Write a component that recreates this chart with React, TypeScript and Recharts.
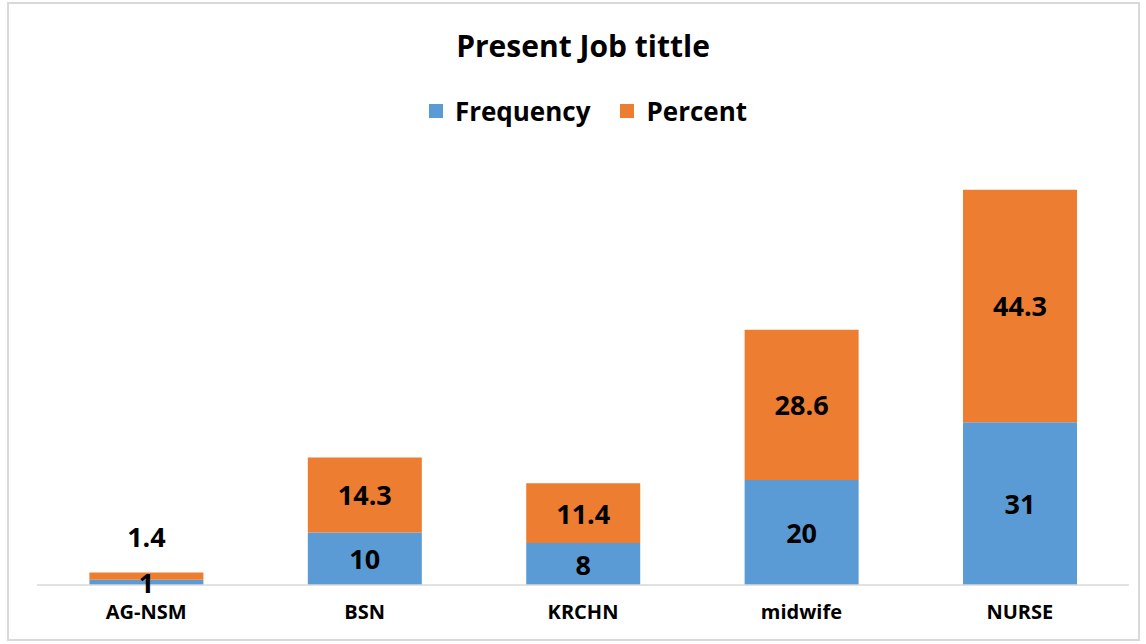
import React from "react";
import { BarChart, Bar, XAxis, YAxis, LabelList } from "recharts";

const jobTitles = ["AG-NSM", "BSN", "KRCHN", "midwife", "NURSE"];
const frequency = [1, 10, 8, 20, 31];
const percent = [1.4, 14.3, 11.4, 28.6, 44.3];

const data = jobTitles.map((title, i) => ({
  title,
  frequency: frequency[i],
  percent: percent[i],
}));

const FONT = "'Open Sans', Lato, sans-serif";
const BLUE = "#5B9BD5";
const ORANGE = "#ED7D31";

const seriesList = [
  { key: "frequency", name: "Frequency", color: BLUE },
  { key: "percent", name: "Percent", color: ORANGE },
];

// Excel-style centered label; tiny percent segments get pushed above the bar
function SegmentLabel(props: any) {
  const { x, y, width, height, value, lift } = props;
  let cy = y + height / 2;
  if (lift && height < 20) cy = y - 36;
  return (
    <text
      x={x + width / 2}
      y={cy}
      textAnchor="middle"
      dominantBaseline="central"
      fontFamily={FONT}
      fontWeight={700}
      fontSize={27}
      fill="#000"
    >
      {value}
    </text>
  );
}

export default function App() {
  return (
    <div
      style={{
        position: "absolute",
        left: 0,
        top: 0,
        width: 1146,
        height: 644,
        background: "#fff",
      }}
    >
      <div
        style={{
          position: "absolute",
          left: 7,
          top: 2,
          width: 1133,
          height: 639,
          border: "2px solid #d9d9d9",
          boxSizing: "border-box",
        }}
      />
      <div
        style={{
          position: "absolute",
          top: 25,
          left: 0,
          width: 1166,
          textAlign: "center",
          fontFamily: FONT,
          fontWeight: 700,
          fontSize: 30,
          lineHeight: "42px",
          color: "#000",
        }}
      >
        Present Job tittle
      </div>
      <div
        style={{
          position: "absolute",
          top: 92,
          left: 0,
          width: 1176,
          display: "flex",
          justifyContent: "center",
          gap: 30,
          fontFamily: FONT,
          fontWeight: 700,
          fontSize: 26,
          lineHeight: "38px",
          color: "#000",
        }}
      >
        {seriesList.map((s) => (
          <div key={s.key} style={{ display: "flex", alignItems: "center", gap: 12 }}>
            <div style={{ width: 14, height: 14, background: s.color }} />
            <span>{s.name}</span>
          </div>
        ))}
      </div>
      <BarChart
        width={1146}
        height={644}
        data={data}
        margin={{ top: 165, right: 17, bottom: 0, left: 37 }}
        barCategoryGap="24%"
        style={{ position: "absolute", left: 0, top: 0 }}
      >
        <XAxis
          dataKey="title"
          height={59}
          axisLine={{ stroke: "#d9d9d9", strokeWidth: 1.5 }}
          tickLine={false}
          tick={{ fontFamily: FONT, fontWeight: 700, fontSize: 20, fill: "#000" }}
          tickMargin={14}
        />
        <YAxis hide domain={[0, 80]} />
        {seriesList.map((s) => (
          <Bar
            key={s.key}
            dataKey={s.key}
            stackId="a"
            fill={s.color}
            isAnimationActive={false}
          >
            <LabelList
              dataKey={s.key}
              content={<SegmentLabel lift={s.key === "percent"} />}
            />
          </Bar>
        ))}
      </BarChart>
    </div>
  );
}
